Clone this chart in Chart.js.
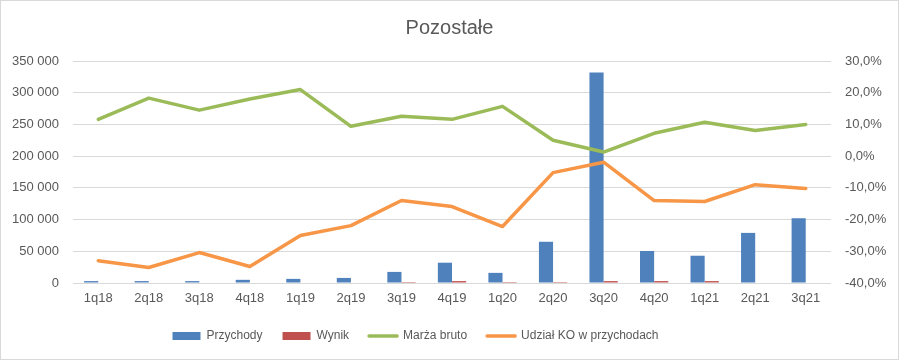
<!DOCTYPE html>
<html>
<head>
<meta charset="utf-8">
<script src="https://cdn.jsdelivr.net/npm/chart.js@4/dist/chart.umd.min.js"></script>
<style>
html,body{margin:0;padding:0;background:#fff;}
#wrap{width:899px;height:360px;position:relative;}
</style>
</head>
<body>
<div id="wrap"><canvas id="c" width="899" height="360"></canvas></div>
<script>
const categories = ['1q18','2q18','3q18','4q18','1q19','2q19','3q19','4q19','1q20','2q20','3q20','4q20','1q21','2q21','3q21'];
const przychody = [3000, 3000, 3000, 5000, 6500, 8000, 17500, 32000, 16000, 65000, 332000, 50500, 43000, 79000, 102000];
const wynik = [0, 0, 0, 0, 0, 0, 1500, 3000, 1500, 1500, 3000, 3000, 3000, 0, 0];
const marzaBruto = [11.6, 18.3, 14.5, 18.0, 21.0, 9.4, 12.6, 11.6, 15.7, 5.0, 1.3, 7.2, 10.7, 8.1, 10.0];
const udzialKO = [-33.0, -35.1, -30.4, -34.8, -25.0, -21.9, -14.0, -15.9, -22.2, -5.2, -1.9, -14.0, -14.3, -9.0, -10.2];
const leftTicks = [0, 50000, 100000, 150000, 200000, 250000, 300000, 350000];
const rightTicks = [-40, -30, -20, -10, 0, 10, 20, 30];

const txt = '#595959';
const font = "'Liberation Sans', Arial, sans-serif";

const frame = {
  id: 'frame',
  beforeDraw(chart) {
    const ctx = chart.ctx;
    ctx.save();
    ctx.fillStyle = '#fff';
    ctx.fillRect(0, 0, chart.width, chart.height);
    ctx.strokeStyle = '#d9d9d9';
    ctx.lineWidth = 1;
    ctx.strokeRect(0.5, 0.5, chart.width - 1, chart.height - 1);
    ctx.restore();
    // shift legend left like the reference
    if (chart.legend && !chart.legend._shifted) {
      chart.legend.left -= 34;
      chart.legend.right -= 34;
      chart.legend._shifted = true;
    }
  }
};

new Chart(document.getElementById('c'), {
  data: {
    labels: categories,
    datasets: [
      {type: 'bar', label: 'Przychody', data: przychody, backgroundColor: '#4F81BD', yAxisID: 'y', order: 1,
       categoryPercentage: 0.56, barPercentage: 1.0},
      {type: 'bar', label: 'Wynik', data: wynik, backgroundColor: '#C0504D', yAxisID: 'y', order: 1,
       categoryPercentage: 0.56, barPercentage: 1.0},
      {type: 'line', label: 'Marża bruto', data: marzaBruto, borderColor: '#9BBB59', backgroundColor: '#9BBB59',
       borderWidth: 3.5, pointRadius: 0, tension: 0, yAxisID: 'y1', order: 0,
       borderCapStyle: 'round', borderJoinStyle: 'round'},
      {type: 'line', label: 'Udział KO w przychodach', data: udzialKO, borderColor: '#F79646', backgroundColor: '#F79646',
       borderWidth: 3.5, pointRadius: 0, tension: 0, yAxisID: 'y1', order: 0,
       borderCapStyle: 'round', borderJoinStyle: 'round'}
    ]
  },
  options: {
    responsive: false,
    animation: false,
    layout: {padding: {left: 0, right: 0, top: 0, bottom: 8}},
    plugins: {
      tooltip: {enabled: false},
      title: {display: true, text: 'Pozostałe', color: txt,
        font: {family: font, size: 20, weight: 'normal'}, padding: {top: 16, bottom: 21}},
      legend: {position: 'bottom',
        labels: {color: txt, font: {family: font, size: 12}, usePointStyle: true, pointStyleWidth: 28,
          boxHeight: 8, padding: 20,
          sort: (a, b) => a.datasetIndex - b.datasetIndex,
          generateLabels(chart) {
            const items = Chart.defaults.plugins.legend.labels.generateLabels(chart);
            items.forEach(it => {
              const ds = chart.data.datasets[it.datasetIndex];
              if (ds.type === 'line') { it.pointStyle = 'line'; it.lineWidth = 3.5; it.lineCap = 'round'; }
              else { it.pointStyle = 'rect'; it.lineWidth = 0; }
            });
            return items;
          }}}
    },
    scales: {
      x: {
        grid: {display: false, drawTicks: false},
        border: {display: false},
        afterFit(axis) { axis.height = 27; },
        ticks: {color: txt, font: {family: font, size: 13}, padding: 8, maxRotation: 0}
      },
      y: {
        position: 'left', min: 0, max: 350000,
        afterBuildTicks(axis) { axis.ticks = leftTicks.map(v => ({value: v})); },
        afterFit(axis) { axis.width = 73; },
        grid: {color: '#d9d9d9', drawTicks: false},
        border: {display: false},
        ticks: {color: txt, font: {family: font, size: 13}, padding: 14,
          callback: v => String(v).replace(/\B(?=(\d{3})+(?!\d))/g, ' ')}
      },
      y1: {
        position: 'right', min: -40, max: 30,
        afterBuildTicks(axis) { axis.ticks = rightTicks.map(v => ({value: v})); },
        afterFit(axis) { axis.width = 68; },
        grid: {display: false, drawTicks: false},
        border: {display: false},
        ticks: {color: txt, font: {family: font, size: 13}, padding: 14,
          callback: v => v.toFixed(1).replace('.', ',') + '%'}
      }
    }
  },
  plugins: [frame]
});
</script>
</body>
</html>
